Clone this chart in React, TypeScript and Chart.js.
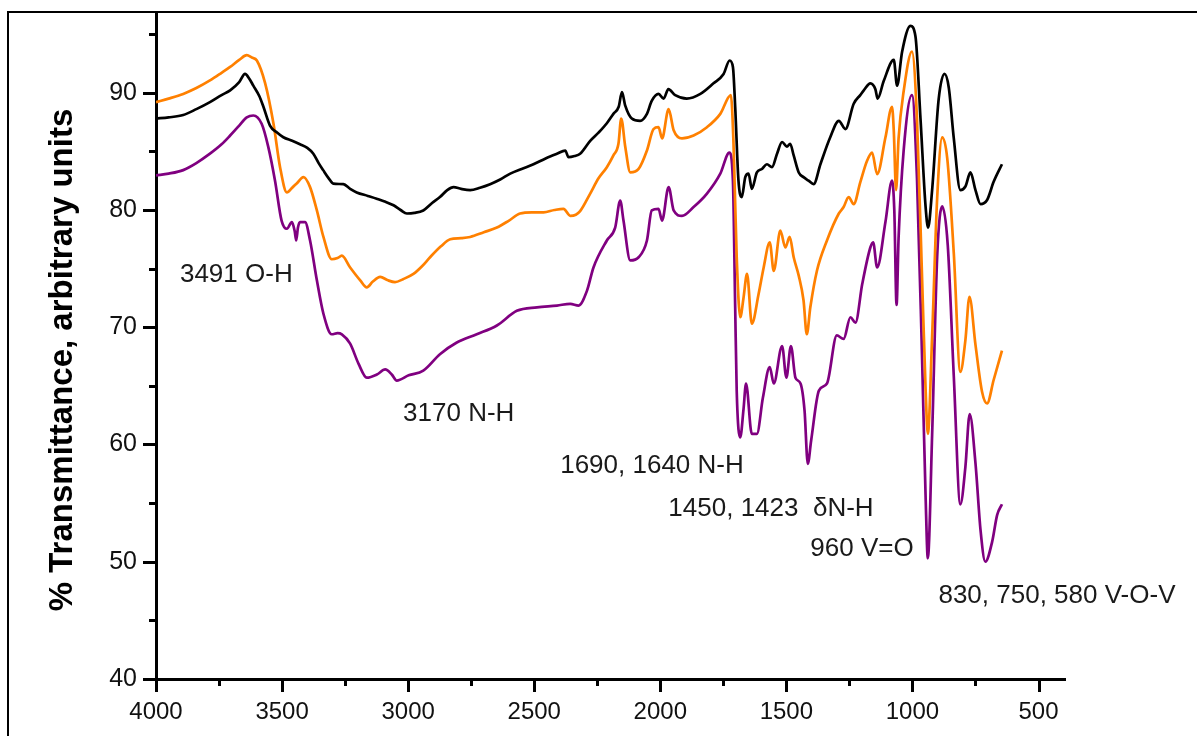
import React, { useEffect, useRef } from 'react';
import { Chart, registerables } from 'chart.js';

Chart.register(...registerables);

const W = 1197;
const H = 736;

const X_TICKS = [4000, 3500, 3000, 2500, 2000, 1500, 1000, 500];
const X_MINOR = [3750, 3250, 2750, 2250, 1750, 1250, 750];
const Y_TICKS = [40, 50, 60, 70, 80, 90];
const Y_MINOR = [45, 55, 65, 75, 85, 95];

const Y_TITLE = '% Transmittance, arbitrary units';

const BLACK_WN = [4000, 3950, 3892, 3840, 3786, 3740, 3706, 3670, 3647, 3630, 3614, 3590, 3574, 3548, 3520, 3495, 3460, 3429, 3400, 3376, 3355, 3337, 3315, 3297, 3257, 3230, 3204, 3160, 3125, 3090, 3058, 3030, 3005, 2975, 2940, 2905, 2874, 2845, 2820, 2790, 2754, 2715, 2675, 2635, 2595, 2550, 2503, 2455, 2410, 2377, 2364, 2340, 2318, 2278, 2245, 2212, 2186, 2165, 2152, 2139, 2113, 2080, 2053, 2034, 2007, 1987, 1968, 1941, 1895, 1841, 1789, 1749, 1725, 1712, 1703, 1690, 1677, 1663, 1650, 1637, 1617, 1597, 1577, 1557, 1537, 1517, 1498, 1485, 1471, 1451, 1432, 1412, 1392, 1365, 1326, 1292, 1266, 1233, 1207, 1193, 1167, 1147, 1138, 1114, 1074, 1061, 1041, 1008, 988, 968, 948, 938, 922, 896, 873, 856, 836, 810, 790, 770, 750, 730, 704, 678, 645];
const BLACK_T = [87.8, 87.9, 88.1, 88.6, 89.2, 89.8, 90.2, 90.9, 91.6, 91.2, 90.6, 89.7, 88.8, 87.2, 86.6, 86.2, 85.9, 85.6, 85.3, 84.8, 84.0, 83.4, 82.7, 82.25, 82.2, 81.8, 81.5, 81.2, 80.96, 80.7, 80.4, 80.0, 79.7, 79.75, 79.96, 80.6, 81.1, 81.7, 81.95, 81.8, 81.7, 81.9, 82.2, 82.6, 83.1, 83.5, 83.9, 84.4, 84.8, 85.07, 84.5, 84.6, 84.8, 85.9, 86.6, 87.4, 88.2, 88.8, 90.05, 88.9, 87.8, 87.6, 88.2, 89.3, 89.9, 89.5, 90.3, 89.8, 89.5, 89.9, 90.8, 91.6, 92.75, 92.2, 88.8, 82.5, 81.1, 82.8, 83.1, 81.8, 83.2, 83.5, 83.9, 83.65, 84.8, 85.8, 85.4, 85.65, 84.65, 83.2, 82.8, 82.5, 82.2, 83.9, 86.2, 87.6, 86.9, 89.06, 89.8, 90.2, 90.8, 90.3, 89.5, 91.0, 92.8, 90.6, 93.5, 95.7, 94.8, 87.75, 80.3, 78.5, 81.7, 89.45, 91.6, 90.45, 86.1, 81.7, 82.0, 83.2, 81.7, 80.5, 80.85, 82.4, 83.9];

const ORANGE_WN = [4000, 3950, 3892, 3840, 3786, 3740, 3706, 3670, 3640, 3620, 3600, 3567, 3534, 3508, 3481, 3460, 3442, 3415, 3389, 3362, 3336, 3303, 3280, 3263, 3230, 3190, 3164, 3140, 3111, 3080, 3052, 3020, 2979, 2945, 2913, 2870, 2833, 2790, 2754, 2700, 2648, 2600, 2556, 2510, 2463, 2420, 2384, 2357, 2335, 2318, 2278, 2245, 2212, 2186, 2166, 2155, 2139, 2119, 2086, 2053, 2027, 2007, 1993, 1967, 1947, 1914, 1868, 1815, 1762, 1720, 1710, 1697, 1683, 1670, 1656, 1637, 1610, 1590, 1566, 1550, 1524, 1504, 1487, 1471, 1451, 1432, 1419, 1405, 1379, 1339, 1292, 1273, 1253, 1233, 1207, 1180, 1160, 1140, 1107, 1081, 1074, 1065, 1055, 1035, 1002, 982, 962, 948, 939, 922, 902, 882, 862, 836, 810, 790, 774, 750, 724, 704, 678, 645];
const ORANGE_T = [89.2, 89.5, 89.9, 90.4, 91.05, 91.7, 92.2, 92.8, 93.2, 93.0, 92.75, 90.8, 87.35, 83.65, 81.5, 81.9, 82.25, 82.8, 81.95, 79.96, 77.7, 75.8, 75.9, 76.1, 75.1, 74.0, 73.4, 73.9, 74.3, 74.0, 73.85, 74.1, 74.55, 75.2, 75.97, 76.9, 77.5, 77.6, 77.7, 78.1, 78.5, 79.1, 79.7, 79.8, 79.8, 80.0, 80.1, 79.5, 79.6, 79.9, 81.4, 82.7, 83.65, 84.65, 85.65, 87.8, 85.4, 83.2, 83.5, 85.07, 86.9, 87.06, 86.1, 88.6, 86.8, 86.1, 86.35, 87.06, 88.2, 89.8, 85.9, 76.0, 70.85, 72.5, 74.55, 70.3, 72.85, 75.1, 77.25, 74.8, 78.25, 76.8, 77.7, 75.97, 74.4, 72.3, 69.4, 71.7, 74.8, 77.4, 79.7, 80.25, 81.1, 80.5, 82.35, 84.2, 84.9, 83.05, 86.2, 88.8, 86.75, 81.7, 86.1, 90.1, 93.5, 87.75, 74.3, 64.8, 60.9, 69.2, 81.0, 86.2, 84.4, 76.3, 66.2, 68.9, 72.6, 68.5, 64.5, 63.5, 65.5, 68.0];

const PURPLE_WN = [4000, 3950, 3892, 3840, 3786, 3740, 3706, 3670, 3640, 3614, 3581, 3555, 3528, 3502, 3481, 3461, 3450, 3444, 3437, 3429, 3409, 3389, 3362, 3336, 3303, 3280, 3263, 3230, 3197, 3164, 3124, 3091, 3065, 3045, 2998, 2940, 2874, 2807, 2728, 2648, 2569, 2489, 2410, 2357, 2324, 2291, 2265, 2212, 2179, 2159, 2146, 2119, 2086, 2053, 2034, 2007, 1993, 1967, 1947, 1914, 1868, 1815, 1762, 1726, 1712, 1703, 1697, 1683, 1670, 1660, 1637, 1617, 1593, 1566, 1550, 1517, 1500, 1482, 1464, 1444, 1428, 1415, 1402, 1371, 1339, 1300, 1273, 1246, 1226, 1199, 1167, 1156, 1140, 1107, 1081, 1072, 1063, 1055, 1035, 1002, 982, 962, 948, 939, 922, 902, 882, 860, 836, 810, 790, 773, 750, 730, 711, 684, 664, 645];
const PURPLE_T = [82.95, 83.1, 83.4, 84.0, 84.8, 85.6, 86.35, 87.2, 87.9, 88.06, 87.35, 85.4, 82.5, 79.1, 78.4, 78.96, 78.2, 77.4, 78.5, 78.96, 78.96, 77.4, 74.0, 71.15, 69.4, 69.5, 69.4, 68.6, 66.9, 65.7, 65.97, 66.4, 65.97, 65.45, 65.9, 66.3, 67.7, 68.7, 69.4, 70.15, 71.4, 71.7, 71.85, 72.0, 71.85, 73.1, 75.1, 77.4, 78.5, 80.8, 79.1, 75.7, 75.97, 77.4, 79.96, 80.1, 79.1, 81.95, 79.96, 79.5, 80.25, 81.4, 83.1, 84.9, 82.5, 71.7, 64.6, 60.6, 63.0, 65.2, 60.9, 60.9, 64.0, 66.6, 65.2, 68.4, 65.7, 68.4, 65.7, 65.2, 62.9, 58.35, 60.3, 64.6, 65.2, 69.3, 69.0, 70.85, 70.4, 73.7, 76.8, 77.25, 75.1, 79.0, 82.5, 80.0, 71.9, 77.6, 85.05, 89.8, 82.7, 67.5, 55.7, 50.3, 60.8, 76.0, 80.3, 77.0, 65.8, 54.9, 58.1, 62.6, 58.4, 52.7, 50.0, 51.7, 54.0, 54.9];

const ANNOT_TEXT = ['3491 O-H', '3170 N-H', '1690, 1640 N-H', '1450, 1423  \u03B4N-H', '960 V=O', '830, 750, 580 V-O-V'];
const ANNOT_WN = [3905, 3020, 2397, 1968, 1405, 897];
const ANNOT_T = [73.9, 62.04, 57.6, 53.93, 50.5, 46.5];

const toPoints = (xs: number[], ys: number[]) => xs.map((x, i) => ({ x, y: ys[i] }));

const FONT = '"Liberation Sans", Arial, Helvetica, sans-serif';

const decorPlugin = {
  id: 'ftirDecor',
  beforeDraw(chart: any) {
    const ctx = chart.ctx;
    ctx.save();
    ctx.fillStyle = '#000';
    ctx.fillRect(7, 11, W - 7, 2);
    ctx.fillRect(7, 11, 2, H - 11);
    ctx.restore();
  },
  afterDraw(chart: any) {
    const { ctx, chartArea } = chart;
    const xs = chart.scales.x;
    const ys = chart.scales.y;
    ctx.save();
    ctx.strokeStyle = '#000';
    ctx.lineWidth = 3;
    ctx.lineCap = 'butt';
    const b = chartArea.bottom - 1;
    const drawX = (v: number, len: number) => {
      const px = Math.round(xs.getPixelForValue(v)) + 0.5;
      ctx.beginPath();
      ctx.moveTo(px, b);
      ctx.lineTo(px, b + len);
      ctx.stroke();
    };
    X_TICKS.forEach((v) => drawX(v, 14));
    X_MINOR.forEach((v) => drawX(v, 8));
    const l = chartArea.left + 1;
    const drawY = (v: number, len: number) => {
      const py = Math.round(ys.getPixelForValue(v)) + 0.5;
      ctx.beginPath();
      ctx.moveTo(l, py);
      ctx.lineTo(l - len, py);
      ctx.stroke();
    };
    Y_TICKS.forEach((v) => drawY(v, 14));
    Y_MINOR.forEach((v) => drawY(v, 8));

    ctx.fillStyle = '#1a1a1a';
    ctx.font = '26px ' + FONT;
    ctx.textAlign = 'left';
    ctx.textBaseline = 'alphabetic';
    ANNOT_TEXT.forEach((t, i) => {
      ctx.fillText(t, xs.getPixelForValue(ANNOT_WN[i]), ys.getPixelForValue(ANNOT_T[i]));
    });

    ctx.translate(63, 360);
    ctx.rotate(-Math.PI / 2);
    ctx.fillStyle = '#000';
    ctx.font = 'bold 33px ' + FONT;
    ctx.textAlign = 'center';
    ctx.textBaseline = 'middle';
    ctx.fillText(Y_TITLE, 0, 0);
    ctx.restore();
  },
};

export default function App() {
  const ref = useRef<HTMLCanvasElement | null>(null);
  useEffect(() => {
    if (!ref.current) return;
    const ds = (label: string, xs: number[], ys: number[], color: string) => ({
      label,
      data: toPoints(xs, ys),
      borderColor: color,
      backgroundColor: color,
      borderWidth: 2.7,
      pointRadius: 0,
      fill: false,
      cubicInterpolationMode: 'monotone' as const,
    });
    const chart = new Chart(ref.current, {
      type: 'line',
      data: {
        datasets: [
          ds('sample 1', BLACK_WN, BLACK_T, '#000000'),
          ds('sample 2', ORANGE_WN, ORANGE_T, '#ff8000'),
          ds('sample 3', PURPLE_WN, PURPLE_T, '#800080'),
        ],
      },
      options: {
        animation: false,
        responsive: false,
        devicePixelRatio: 1,
        layout: { padding: { top: 13, right: 132, left: 0, bottom: 0 } },
        plugins: { legend: { display: false }, tooltip: { enabled: false } },
        scales: {
          x: {
            type: 'linear',
            reverse: true,
            min: 395,
            max: 4000,
            afterFit: (s: any) => {
              s.height = 57;
              s.paddingLeft = 0;
              s.paddingRight = 0;
            },
            afterBuildTicks: (s: any) => { s.ticks = X_TICKS.map((v) => ({ value: v })); },
            grid: { display: false, drawTicks: false },
            border: { display: true, color: '#000', width: 3 },
            ticks: {
              color: '#111',
              font: { family: FONT, size: 24 },
              padding: 19,
              maxRotation: 0,
              autoSkip: false,
              callback: (v: any) => String(v),
            },
          },
          y: {
            type: 'linear',
            min: 40,
            max: 96.8,
            afterFit: (s: any) => {
              s.width = 156;
              s.paddingTop = 0;
              s.paddingBottom = 0;
            },
            afterBuildTicks: (s: any) => { s.ticks = Y_TICKS.map((v) => ({ value: v })); },
            grid: { display: false, drawTicks: false },
            border: { display: true, color: '#000', width: 3 },
            ticks: {
              color: '#111',
              font: { family: FONT, size: 25 },
              padding: 19,
              callback: (v: any) => String(v),
            },
          },
        },
      },
      plugins: [decorPlugin],
    });
    return () => chart.destroy();
  }, []);
  return (
    <div style={{ position: 'fixed', left: 0, top: 0, width: W, height: H, overflow: 'hidden', background: '#fff' }}>
      <canvas ref={ref} width={W} height={H} style={{ display: 'block', width: W, height: H }} />
    </div>
  );
}
